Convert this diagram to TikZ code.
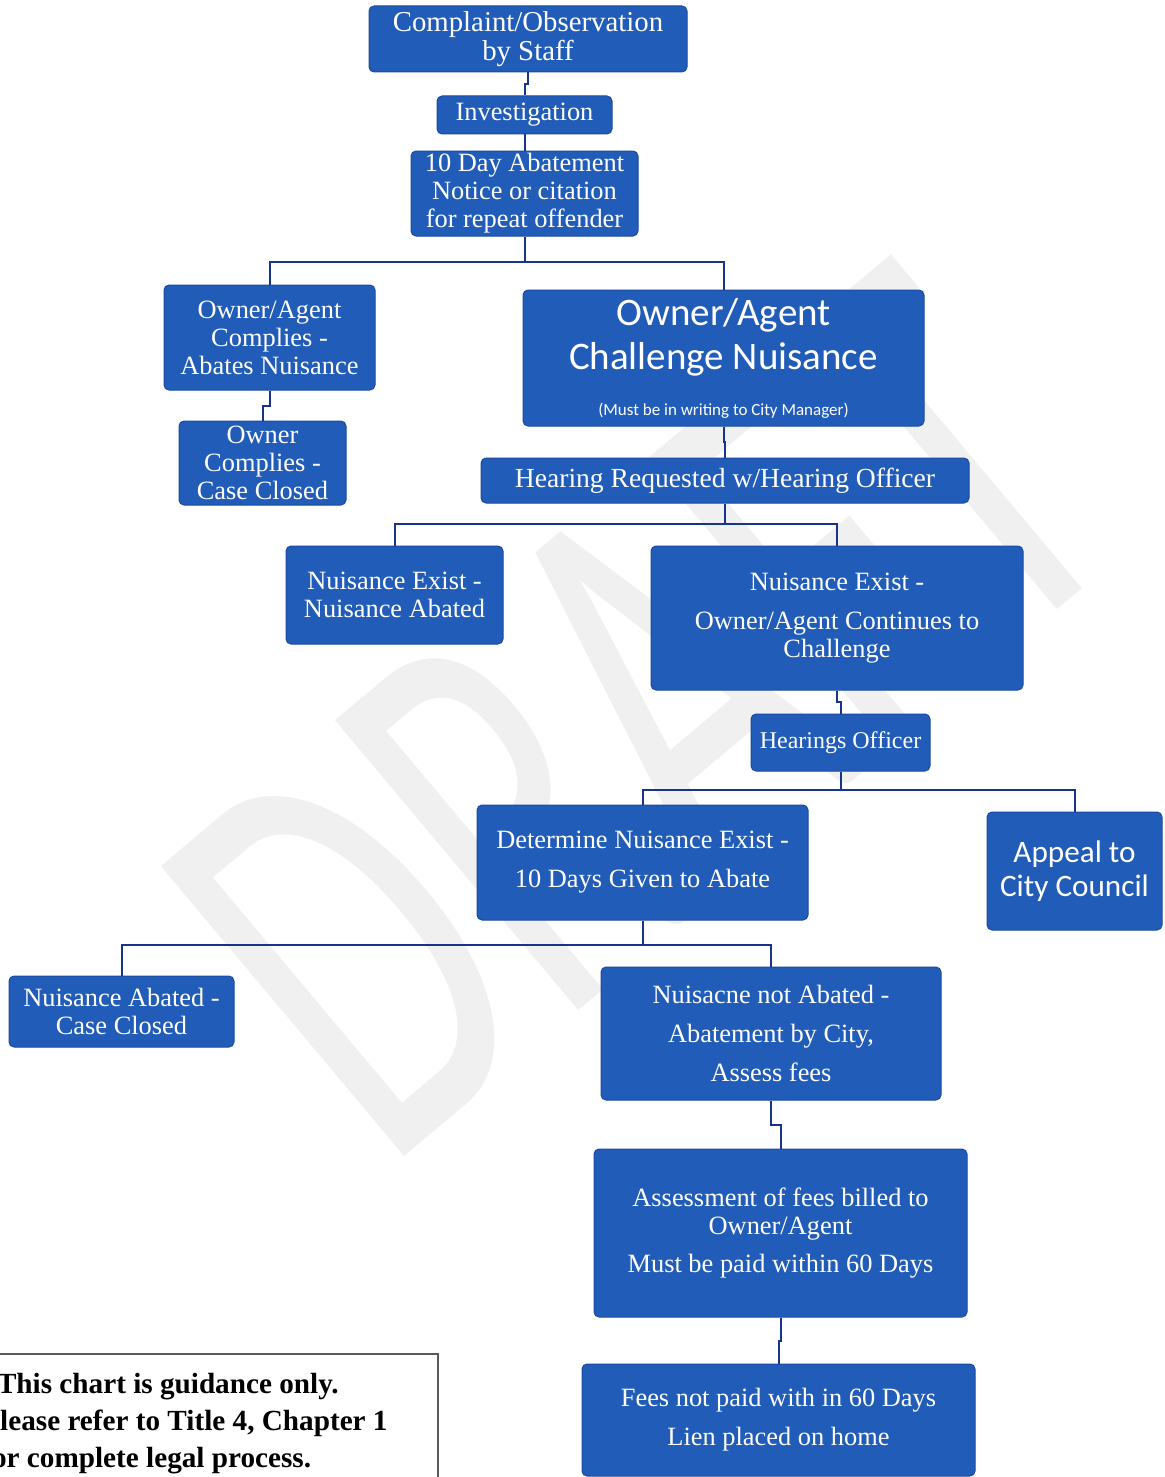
\documentclass[tikz,border=0pt]{standalone}
\usepackage{fontspec}
\setmainfont{Liberation Serif}
\newfontfamily\calibrifont{Carlito}
\usetikzlibrary{calc}

\newlength{\du}
\setlength{\du}{0.5pt}

\definecolor{boxfill}{RGB}{33,92,184}
\definecolor{boxline}{RGB}{26,74,160}
\definecolor{linkcolor}{RGB}{22,52,140}
\definecolor{draftgray}{RGB}{240,240,240}
\definecolor{noteline}{RGB}{90,90,90}

\tikzset{
  blk/.style={draw=boxline, line width=1\du, fill=boxfill, rounded corners=5\du,
    text=white, align=center, inner sep=0pt, font=\fontsize{13.2}{14}\selectfont},
  link/.style={draw=linkcolor, line width=2\du},
  elbow/.style={to path={|- ($(\tikztostart)!.5!(\tikztotarget)$) -| (\tikztotarget)}},
}

\begin{document}
\begin{tikzpicture}
\pgftransformxscale{1.000000}
\pgftransformyscale{-1.000000}
\useasboundingbox (0\du,0\du) rectangle (1164\du,1477\du);
\clip (0\du,0\du) rectangle (1164\du,1477\du);
% watermark
\node[text=draftgray, font=\calibrifont\fontsize{295}{295}\selectfont, rotate=40, xscale=0.62] (draft) at (640\du,712\du) {DRAFT};
% top of chart
\node[blk, minimum width=318\du, minimum height=66\du, font=\fontsize{14.4}{14.5}\selectfont] (complaint) at (528\du,39\du) {Complaint/Observation\\by Staff};
\node[blk, minimum width=175\du, minimum height=38\du] (investigation) at (524.5\du,115\du) {Investigation};
\node[blk, minimum width=227\du, minimum height=85\du] (notice) at (524.5\du,193.5\du) {10 Day Abatement\\Notice or citation\\for repeat offender};
% owner complies / owner challenges
\node[blk, minimum width=211\du, minimum height=105\du] (complies) at (269.5\du,337.5\du) {Owner/Agent\\Complies -\\Abates Nuisance};
\node[blk, minimum width=167\du, minimum height=84\du] (closed) at (262.5\du,463\du) {Owner\\Complies -\\Case Closed};
\node[blk, minimum width=401\du, minimum height=136\du, font=\calibrifont\fontsize{19.5}{22}\selectfont] (challenge) at (723.5\du,358\du) {Owner/Agent\\Challenge Nuisance\\[1pt]{\fontsize{8.5}{10}\selectfont (Must be in writing to City Manager)}};
\node[blk, minimum width=488\du, minimum height=45\du, font=\fontsize{13.8}{14}\selectfont] (hearing) at (725\du,480.5\du) {Hearing Requested w/Hearing Officer};
\node[blk, minimum width=217\du, minimum height=98\du] (abated) at (394.5\du,595\du) {Nuisance Exist -\\Nuisance Abated};
\node[blk, minimum width=372\du, minimum height=144\du] (continues) at (837\du,618\du) {Nuisance Exist -\\[5.5pt]Owner/Agent Continues to\\Challenge};
\node[blk, minimum width=179\du, minimum height=57\du, font=\fontsize{12}{14}\selectfont] (officer) at (840.5\du,742.5\du) {Hearings Officer};
% hearings officer decision
\node[blk, minimum width=331\du, minimum height=115\du] (determine) at (642.5\du,862.5\du) {Determine Nuisance Exist -\\[5.5pt]10 Days Given to Abate};
\node[blk, minimum width=175\du, minimum height=118\du, font=\calibrifont\fontsize{15.6}{17}\selectfont] (appeal) at (1074.5\du,871\du) {Appeal to\\City Council};
\node[blk, minimum width=225\du, minimum height=71\du] (casedone) at (121.5\du,1011.5\du) {Nuisance Abated -\\Case Closed};
\node[blk, minimum width=340\du, minimum height=133\du] (notabated) at (771\du,1033.5\du) {Nuisacne not Abated -\\[5.5pt]Abatement by City,\\[5.5pt]Assess fees};
\node[blk, minimum width=373\du, minimum height=168\du] (assessment) at (780.5\du,1233\du) {Assessment of fees billed to\\Owner/Agent\\[5pt]Must be paid within 60 Days};
\node[blk, minimum width=393\du, minimum height=112\du] (fees) at (778.5\du,1420\du) {Fees not paid with in 60 Days\\[5.5pt]Lien placed on home};
% note
\draw[noteline, line width=1.5\du] (-10\du,1354\du) rectangle (438\du,1500\du);
\node[anchor=north west, align=left, inner sep=0pt, font=\bfseries\fontsize{14.6}{18.5}\selectfont] (disclaimer) at (-18\du,1373\du) {*This chart is guidance only.\\Please refer to Title 4, Chapter 1\\for complete legal process.};
% connectors
\coordinate (split1) at (524.5\du,262\du);
\coordinate (split2) at (725\du,524\du);
\coordinate (split3) at (840.5\du,790\du);
\coordinate (split4) at (642.5\du,945\du);
\draw[link] (complaint.south) to[elbow] (investigation.north);
\draw[link] (investigation.south) -- (notice.north);
\draw[link] (notice.south) -- (split1) -| (complies.north);
\draw[link] (split1) -| (challenge.north);
\draw[link] (complies.south) to[elbow] (closed.north);
\draw[link] (challenge.south) to[elbow] (hearing.north);
\draw[link] (hearing.south) -- (split2) -| (abated.north);
\draw[link] (split2) -| (continues.north);
\draw[link] (continues.south) to[elbow] (officer.north);
\draw[link] (officer.south) -- (split3) -| (determine.north);
\draw[link] (split3) -| (appeal.north);
\draw[link] (determine.south) -- (split4) -| (casedone.north);
\draw[link] (split4) -| (notabated.north);
\draw[link] (notabated.south) to[elbow] (assessment.north);
\draw[link] (assessment.south) to[elbow] (fees.north);
\end{tikzpicture}
\end{document}
